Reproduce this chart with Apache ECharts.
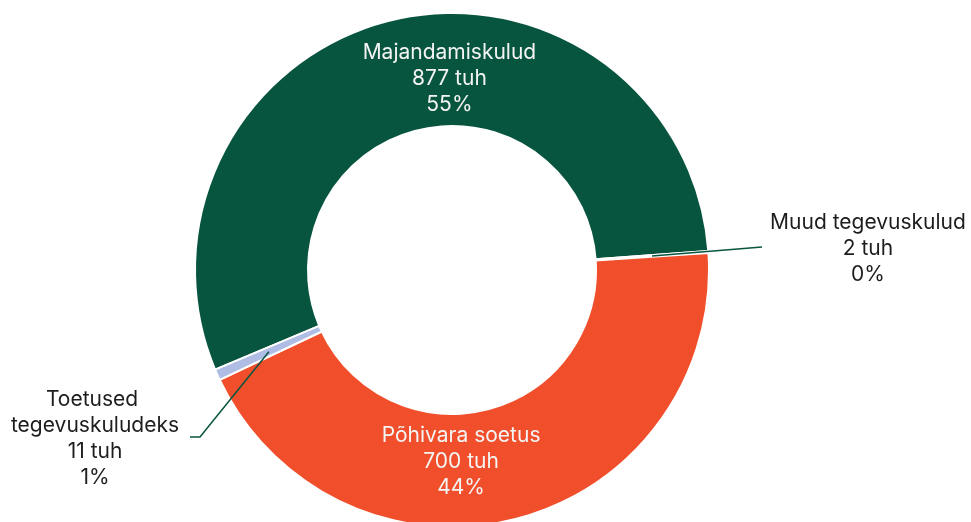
<!DOCTYPE html>
<html>
<head>
<meta charset="utf-8">
<script src="https://cdn.jsdelivr.net/npm/echarts@6/dist/echarts.min.js"></script>
<style>
  html, body { margin: 0; padding: 0; background: #fff; }
  #main { width: 971px; height: 522px; }
</style>
</head>
<body>
<div id="main"></div>
<script>
// data
var categories = ['Majandamiskulud', 'Muud tegevuskulud', 'Põhivara soetus', 'Toetused tegevuskuludeks'];
var values = [877, 2, 700, 11];
var colors = ['#08553F', '#08553F', '#F14F2B', '#AFBDE4'];

var cx = 452, cy = 270, rIn = 144, rOut = 257;
var rMid = (rIn + rOut) / 2;
var startAngle = 202.8;

// label placement tweaks (relative to centre)
var insideShift = { 0: [45, 7], 2: [-42, -5] };
var outside = {
    1: { label: [416, -21], bend: [310, -23], end: [310, -23] },
    3: { label: [-357, 169], bend: [-252, 167], end: [-262, 167] }
};

var total = values.reduce(function (a, b) { return a + b; }, 0);

// mid angle of each slice (degrees, counter-clockwise from 3 o'clock)
var midAngles = [];
var acc = 0;
values.forEach(function (v) {
    var span = v / total * 360;
    midAngles.push(startAngle - acc - span / 2);
    acc += span;
});

function fmt(p) {
    return p.name + '\n' + p.value + ' tuh\n' + Math.round(p.value / total * 100) + '%';
}

var labelBase = {
    fontFamily: 'Inter',
    fontSize: 21,
    lineHeight: 26,
    align: 'center',
    formatter: fmt
};

// coloured ring with the inside labels
var ringData = categories.map(function (name, i) {
    var isOut = outside[i] !== undefined;
    return {
        name: name,
        value: values[i],
        itemStyle: { color: colors[i] },
        label: { show: !isOut, position: 'inside', color: '#f4f4f4' },
        labelLine: { show: false }
    };
});

// transparent copy on top, carrying the outside labels and their lines
var calloutData = categories.map(function (name, i) {
    var isOut = outside[i] !== undefined;
    return {
        name: name,
        value: values[i],
        label: {
            show: isOut,
            position: 'outside',
            color: '#1d1d1d',
            width: i === 3 ? 185 : undefined,
            overflow: i === 3 ? 'break' : 'none'
        },
        labelLine: { show: isOut }
    };
});

var myChart = echarts.init(document.getElementById('main'));

option = {
    animation: false,
    series: [
        {
            type: 'pie',
            z: 2,
            center: [cx, cy],
            radius: [rIn, rOut],
            startAngle: startAngle,
            clockwise: true,
            avoidLabelOverlap: false,
            itemStyle: { borderColor: '#fff', borderWidth: 2 },
            label: labelBase,
            labelLayout: function (params) {
                var s = insideShift[params.dataIndex];
                return s ? { dx: s[0], dy: s[1] } : {};
            },
            data: ringData
        },
        {
            type: 'pie',
            z: 3,
            silent: true,
            center: [cx, cy],
            radius: [rIn, rOut],
            startAngle: startAngle,
            clockwise: true,
            avoidLabelOverlap: false,
            itemStyle: { color: 'rgba(0,0,0,0)', borderWidth: 0 },
            label: labelBase,
            labelLine: {
                lineStyle: { color: '#08553F', width: 1.5 },
                length: 20,
                length2: 10
            },
            labelLayout: function (params) {
                var i = params.dataIndex;
                var o = outside[i];
                if (!o) return {};
                var a = midAngles[i] * Math.PI / 180;
                var start = [cx + rMid * Math.cos(a), cy - rMid * Math.sin(a)];
                return {
                    x: cx + o.label[0],
                    y: cy + o.label[1],
                    align: 'center',
                    verticalAlign: 'middle',
                    labelLinePoints: [
                        start,
                        [cx + o.bend[0], cy + o.bend[1]],
                        [cx + o.end[0], cy + o.end[1]]
                    ]
                };
            },
            data: calloutData
        }
    ]
};

myChart.setOption(option);
</script>
</body>
</html>
